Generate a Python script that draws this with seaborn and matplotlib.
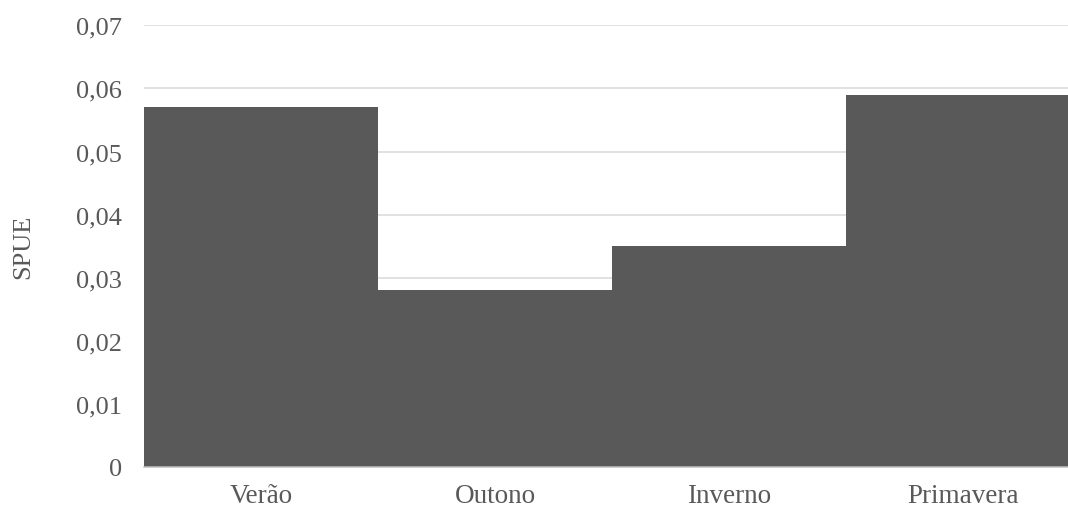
import matplotlib
matplotlib.use("Agg")
import matplotlib.pyplot as plt
import seaborn as sns
from matplotlib.ticker import FuncFormatter

# Seasonal SPUE values
seasons = ["Verão", "Outono", "Inverno", "Primavera"]
spue = [0.057, 0.028, 0.035, 0.059]
y_ticks = [0, 0.01, 0.02, 0.03, 0.04, 0.05, 0.06, 0.07]

sns.set_style("white")
plt.rcParams["font.family"] = ["Liberation Serif", "DejaVu Serif"]

text_color = "#595959"
bar_color = "#595959"
grid_color = "#d9d9d9"

fig = plt.figure(figsize=(10.68, 5.10), dpi=100)
ax = fig.add_axes([0.1348, 0.0824, 0.8764, 0.866])

sns.barplot(x=seasons, y=spue, color=bar_color, width=1.0, saturation=1,
            linewidth=0, ax=ax, zorder=3)

ax.set_ylim(0, 0.07)
ax.set_yticks(y_ticks)
ax.yaxis.set_major_formatter(
    FuncFormatter(lambda v, _: "0" if abs(v) < 1e-12 else f"{v:.2f}".replace(".", ","))
)
ax.grid(axis="y", color=grid_color, linewidth=1.1, zorder=0)
ax.set_axisbelow(True)

for side in ["top", "right", "left"]:
    ax.spines[side].set_visible(False)
ax.spines["bottom"].set_color("#bfbfbf")
ax.spines["bottom"].set_linewidth(1.1)
ax.spines["bottom"].set_zorder(4)

ax.tick_params(axis="y", length=0, pad=16, labelsize=19, labelcolor=text_color)
ax.tick_params(axis="x", length=0, pad=11.5, labelsize=19.5, labelcolor=text_color)

ax.set_xlabel("")
ax.set_ylabel("SPUE", fontsize=19, color=text_color)
ax.yaxis.set_label_coords(-0.117, 0.5)

fig.savefig("out.png", dpi=100)
